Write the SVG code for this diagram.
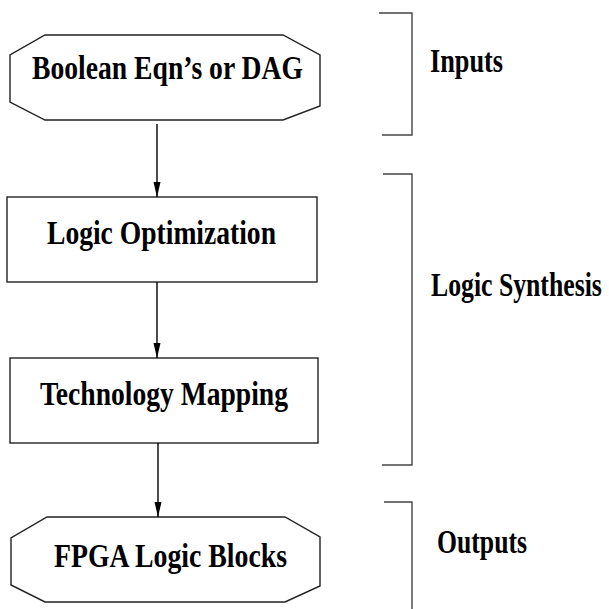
<svg xmlns="http://www.w3.org/2000/svg" width="609" height="609" viewBox="0 0 609 609">
  <style>
    .shape { fill: #ffffff; stroke: #222222; stroke-width: 1.4; }
    .label { font-family: "Liberation Serif", "DejaVu Serif", serif; font-weight: 700; font-size: 33px; fill: #000000; }
    .edge { fill: none; stroke: #000000; stroke-width: 1.4; }
    .brace { fill: none; stroke: #444444; stroke-width: 1.4; }
  </style>
  <defs>
    <marker id="head" viewBox="0 0 15 8" refX="15" refY="4" markerWidth="15" markerHeight="8" markerUnits="userSpaceOnUse" orient="auto">
      <path d="M0,0.5 L15,4 L0,7.5 Z" fill="#000000"/>
    </marker>
  </defs>

  <!-- flow nodes -->
  <g id="node-inputs">
    <polygon class="shape" points="45,35 283,35 320,55 320,106 283,120 45,120 10,102 10,55"/>
    <text class="label" x="32" y="79" textLength="271" lengthAdjust="spacingAndGlyphs">Boolean Eqn’s or DAG</text>
  </g>
  <g id="node-optimization">
    <rect class="shape" x="7" y="197" width="310" height="85"/>
    <text class="label" x="47" y="244" textLength="229" lengthAdjust="spacingAndGlyphs">Logic Optimization</text>
  </g>
  <g id="node-mapping">
    <rect class="shape" x="10" y="358" width="308" height="85"/>
    <text class="label" x="40" y="405" textLength="248" lengthAdjust="spacingAndGlyphs">Technology Mapping</text>
  </g>
  <g id="node-blocks">
    <polygon class="shape" points="47,517 285,517 320,537 320,586 285,602 45,602 11,585 11,538"/>
    <text class="label" x="54" y="567" textLength="233" lengthAdjust="spacingAndGlyphs">FPGA Logic Blocks</text>
  </g>

  <!-- connectors -->
  <g id="connectors">
    <line class="edge" x1="157" y1="124" x2="157" y2="197" marker-end="url(#head)"/>
    <line class="edge" x1="157" y1="282" x2="157" y2="358" marker-end="url(#head)"/>
    <line class="edge" x1="158" y1="443" x2="158" y2="517" marker-end="url(#head)"/>
  </g>

  <!-- stage brackets -->
  <g id="stage-inputs">
    <polyline class="brace" points="379,13 412,13 412,135 382,135"/>
    <text class="label" x="430" y="72" textLength="73" lengthAdjust="spacingAndGlyphs">Inputs</text>
  </g>
  <g id="stage-synthesis">
    <polyline class="brace" points="383,174 412,174 412,465 382,465"/>
    <text class="label" transform="translate(431,296) scale(0.78,1)" x="0" y="0" textLength="219" lengthAdjust="spacingAndGlyphs">Logic Synthesis</text>
  </g>
  <g id="stage-outputs">
    <polyline class="brace" points="384,502 412,502 412,609"/>
    <text class="label" x="437" y="553" textLength="90" lengthAdjust="spacingAndGlyphs">Outputs</text>
  </g>
</svg>
